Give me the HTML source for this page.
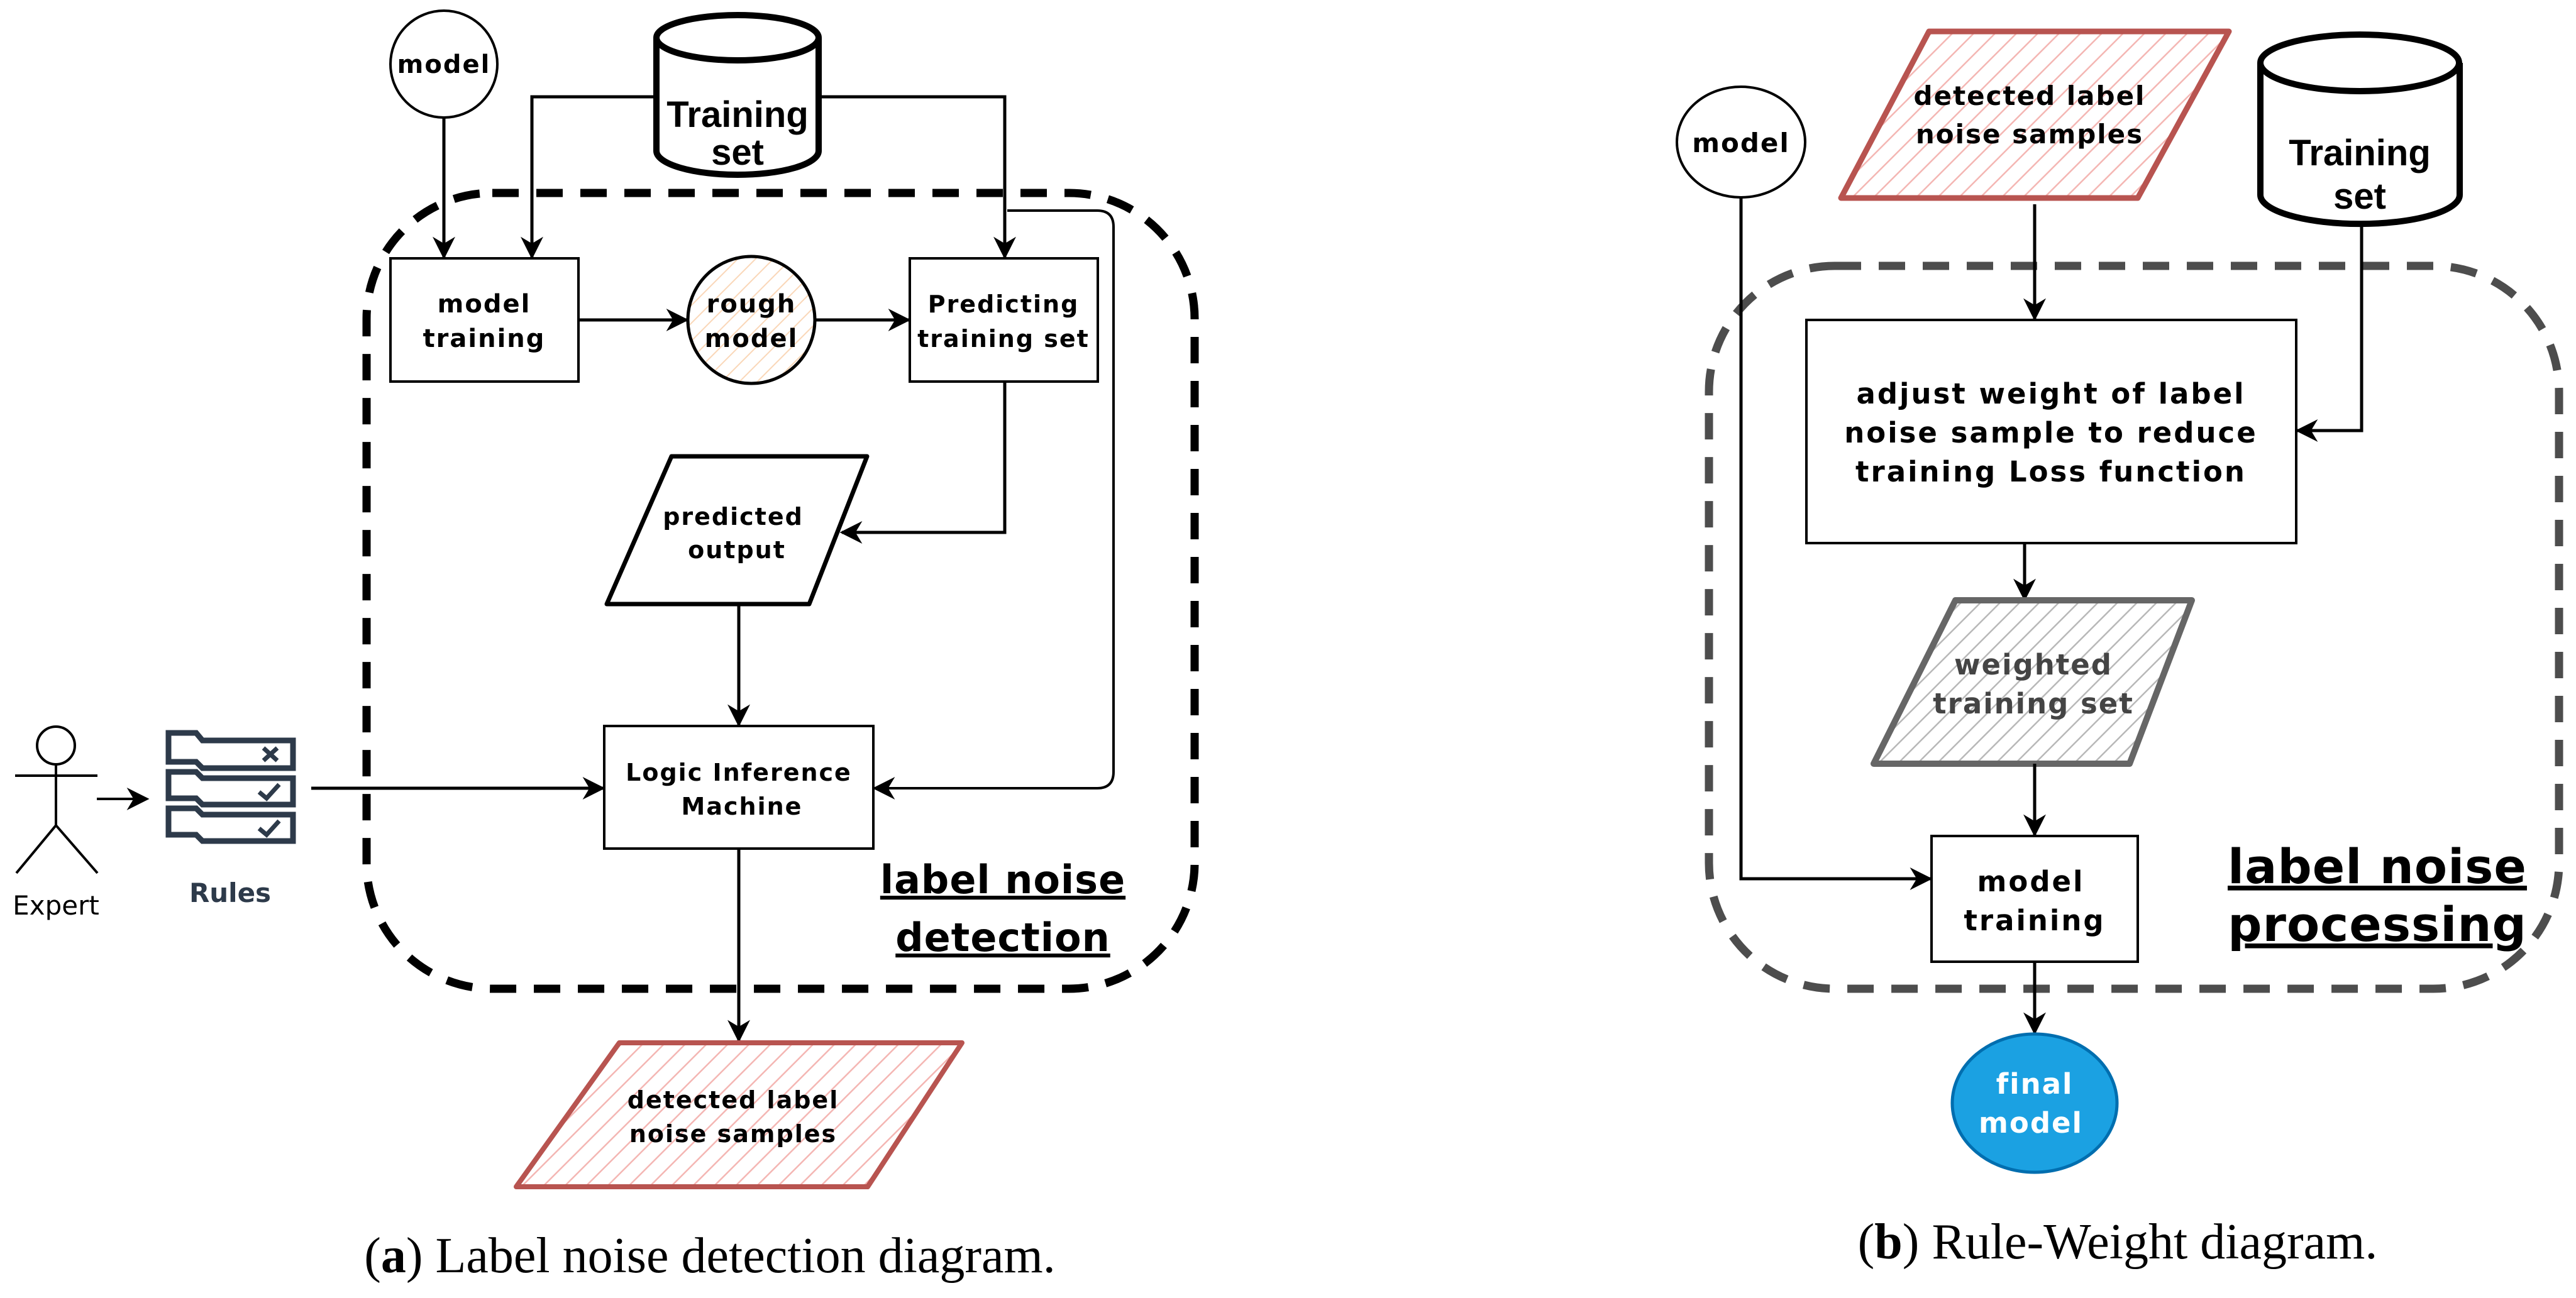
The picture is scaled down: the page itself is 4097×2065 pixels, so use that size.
<!DOCTYPE html>
<html><head><meta charset="utf-8"><style>html,body{margin:0;padding:0;background:#fff}svg{display:block}</style></head>
<body>
<svg width="4097" height="2065" viewBox="0 0 4097 2065" xmlns="http://www.w3.org/2000/svg" font-family="DejaVu Sans, sans-serif" font-weight="bold">
<defs>
<marker id="ar2" viewBox="0 0 20 20" refX="18" refY="10" markerWidth="36" markerHeight="36" markerUnits="userSpaceOnUse" orient="auto"><path d="M0,0 L20,10 L0,20 L6,10 z" fill="#000"/></marker>
<pattern id="hr" width="24" height="24" patternUnits="userSpaceOnUse" patternTransform="rotate(45)"><line x1="0" y1="0" x2="0" y2="24" stroke="#f4b6b3" stroke-width="5"/></pattern>
<pattern id="ho" width="20" height="20" patternUnits="userSpaceOnUse" patternTransform="rotate(45)"><line x1="0" y1="0" x2="0" y2="20" stroke="#fad7b8" stroke-width="4"/></pattern>
<pattern id="hg" width="22" height="22" patternUnits="userSpaceOnUse" patternTransform="rotate(45)"><line x1="0" y1="0" x2="0" y2="22" stroke="#b8b8b8" stroke-width="5"/></pattern>
</defs>
<g fill="none" stroke="#000" stroke-width="5">
<!-- LEFT -->
<rect x="583" y="307" width="1317" height="1266" rx="200" stroke-width="13" stroke-dasharray="42,28"/>
<circle cx="706" cy="102" r="85" stroke-width="4"/>
<path d="M1044,60 L1044,240 A129,38 0 0 0 1302,240 L1302,60" stroke-width="10" fill="#fff"/>
<ellipse cx="1173" cy="60" rx="129" ry="36" stroke-width="10" fill="#fff"/>
<path d="M706,187 L706,409" marker-end="url(#ar2)"/>
<path d="M1044,154 L846,154 L846,409" marker-end="url(#ar2)"/>
<path d="M1302,154 L1598,154 L1598,409" marker-end="url(#ar2)"/>
<rect x="621" y="411" width="299" height="196" stroke-width="4"/>
<path d="M920,509 L1092,509" marker-end="url(#ar2)"/>
<circle cx="1195" cy="509" r="101" fill="url(#ho)" stroke-width="5"/>
<path d="M1296,509 L1445,509" marker-end="url(#ar2)"/>
<rect x="1447" y="411" width="299" height="196" stroke-width="4"/>
<path d="M1602,335 L1745,335 Q1771,335 1771,361 L1771,1228 Q1771,1254 1745,1254 L1391,1254" marker-end="url(#ar2)" stroke-width="4"/>
<path d="M1598,607 L1598,847 L1339,847" marker-end="url(#ar2)"/>
<path d="M1068,726 L1379,726 L1287,961 L965,961 Z" stroke-width="7" stroke-linejoin="round"/>
<path d="M1175,961 L1175,1153" marker-end="url(#ar2)"/>
<rect x="961" y="1155" width="428" height="195" stroke-width="4"/>
<path d="M495,1254 L959,1254" marker-end="url(#ar2)"/>
<path d="M1175,1350 L1175,1655" marker-end="url(#ar2)"/>
<path d="M985,1659 L1530,1659 L1380,1888 L821,1888 Z" fill="url(#hr)" stroke="#b85450" stroke-width="8" stroke-linejoin="round"/>
<circle cx="89" cy="1186" r="30" stroke-width="4"/>
<path d="M24,1234 L155,1234 M89,1216 L89,1313 L26,1389 M89,1313 L155,1389" stroke-width="4"/>
<path d="M154,1271 L234,1271" marker-end="url(#ar2)" stroke-width="4"/>
<g stroke="#2d3a4a" stroke-width="9">
<path d="M268,1166 L312,1166 L322,1178 L466,1178 L466,1222 L322,1222 L312,1212 L268,1212 Z"/>
<path d="M268,1228 L312,1228 L322,1238 L466,1238 L466,1280 L322,1280 L312,1270 L268,1270 Z"/>
<path d="M268,1286 L312,1286 L322,1296 L466,1296 L466,1338 L322,1338 L312,1328 L268,1328 Z"/>
<path d="M419,1190 L441,1210 M441,1190 L419,1210 M412,1260 L424,1270 L444,1248 M412,1318 L424,1328 L444,1306" stroke-width="7"/>
</g>
<!-- RIGHT -->
<rect x="2718" y="423" width="1352" height="1150" rx="200" stroke="#4d4d4d" stroke-width="13" stroke-dasharray="42,28"/>
<ellipse cx="2769" cy="226" rx="102" ry="88" stroke-width="4"/>
<path d="M3068,50 L3545,50 L3400,315 L2928,315 Z" fill="url(#hr)" stroke="#b85450" stroke-width="9" stroke-linejoin="round"/>
<path d="M3595,100 L3595,310 A158,46 0 0 0 3912,310 L3912,100" stroke-width="10" fill="#fff"/>
<ellipse cx="3753" cy="100" rx="158" ry="45" stroke-width="10" fill="#fff"/>
<path d="M3236,325 L3236,507" marker-end="url(#ar2)"/>
<rect x="2873" y="509" width="779" height="355" stroke-width="4"/>
<path d="M3756,357 L3756,685 L3654,685" marker-end="url(#ar2)"/>
<path d="M3220,864 L3220,953" marker-end="url(#ar2)"/>
<path d="M3110,955 L3486,955 L3387,1215 L2980,1215 Z" fill="url(#hg)" stroke="#666" stroke-width="10" stroke-linejoin="round"/>
<path d="M3236,1215 L3236,1328" marker-end="url(#ar2)"/>
<rect x="3072" y="1330" width="328" height="200" stroke-width="4"/>
<path d="M2769,314 L2769,1398 L3070,1398" marker-end="url(#ar2)"/>
<path d="M3236,1530 L3236,1643" marker-end="url(#ar2)"/>
<ellipse cx="3236" cy="1755" rx="131" ry="110" fill="#1ba1e2" stroke="#006eaf" stroke-width="5"/>
</g>
<g text-anchor="middle" fill="#000" letter-spacing="2">
<text x="706" y="116" font-size="40">model</text>
<text x="1173" y="202" font-size="58" font-family="Liberation Sans, sans-serif" letter-spacing="0">Training</text>
<text x="1173" y="262" font-size="58" font-family="Liberation Sans, sans-serif" letter-spacing="0">set</text>
<text x="770" y="497" font-size="40">model</text>
<text x="770" y="552" font-size="40">training</text>
<text x="1195" y="497" font-size="40">rough</text>
<text x="1195" y="552" font-size="40">model</text>
<text x="1596" y="497" font-size="38">Predicting</text>
<text x="1596" y="552" font-size="38">training set</text>
<text x="1166" y="835" font-size="38">predicted</text>
<text x="1172" y="888" font-size="38">output</text>
<text x="1175" y="1242" font-size="38">Logic Inference</text>
<text x="1180" y="1296" font-size="38">Machine</text>
<text x="1166" y="1763" font-size="38">detected label</text>
<text x="1166" y="1817" font-size="38">noise samples</text>
<text x="1595" y="1421" font-size="62" text-decoration="underline" letter-spacing="1">label noise</text>
<text x="1595" y="1513" font-size="62" text-decoration="underline" letter-spacing="1">detection</text>
<text x="89" y="1455" font-size="42" font-weight="normal" letter-spacing="0">Expert</text>
<text x="366" y="1435" font-size="42" fill="#2d3a4a" letter-spacing="0">Rules</text>
<text x="1129" y="2024" font-size="80" font-weight="normal" font-family="Liberation Serif, serif" letter-spacing="0">(<tspan font-weight="bold">a</tspan>) Label noise detection diagram.</text>
<text x="2769" y="242" font-size="42">model</text>
<text x="3228" y="167" font-size="42">detected label</text>
<text x="3228" y="228" font-size="42">noise samples</text>
<text x="3753" y="263" font-size="58" font-family="Liberation Sans, sans-serif" letter-spacing="0">Training</text>
<text x="3753" y="332" font-size="58" font-family="Liberation Sans, sans-serif" letter-spacing="0">set</text>
<text x="3262" y="642" font-size="45" letter-spacing="3">adjust weight of label</text>
<text x="3262" y="704" font-size="45" letter-spacing="3">noise sample to reduce</text>
<text x="3262" y="766" font-size="45" letter-spacing="3">training Loss function</text>
<text x="3234" y="1073" font-size="45" fill="#444">weighted</text>
<text x="3234" y="1135" font-size="45" fill="#444">training set</text>
<text x="3230" y="1418" font-size="45" letter-spacing="3">model</text>
<text x="3236" y="1480" font-size="45" letter-spacing="3">training</text>
<text x="3236" y="1740" font-size="45" fill="#fff">final</text>
<text x="3230" y="1802" font-size="45" fill="#fff">model</text>
<text x="3781" y="1405" font-size="76" text-decoration="underline" letter-spacing="1">label noise</text>
<text x="3781" y="1497" font-size="76" text-decoration="underline" letter-spacing="1">processing</text>
<text x="3368" y="2002" font-size="80" font-weight="normal" font-family="Liberation Serif, serif" letter-spacing="0">(<tspan font-weight="bold">b</tspan>) Rule-Weight diagram.</text>
</g>
</svg>
</body></html>
